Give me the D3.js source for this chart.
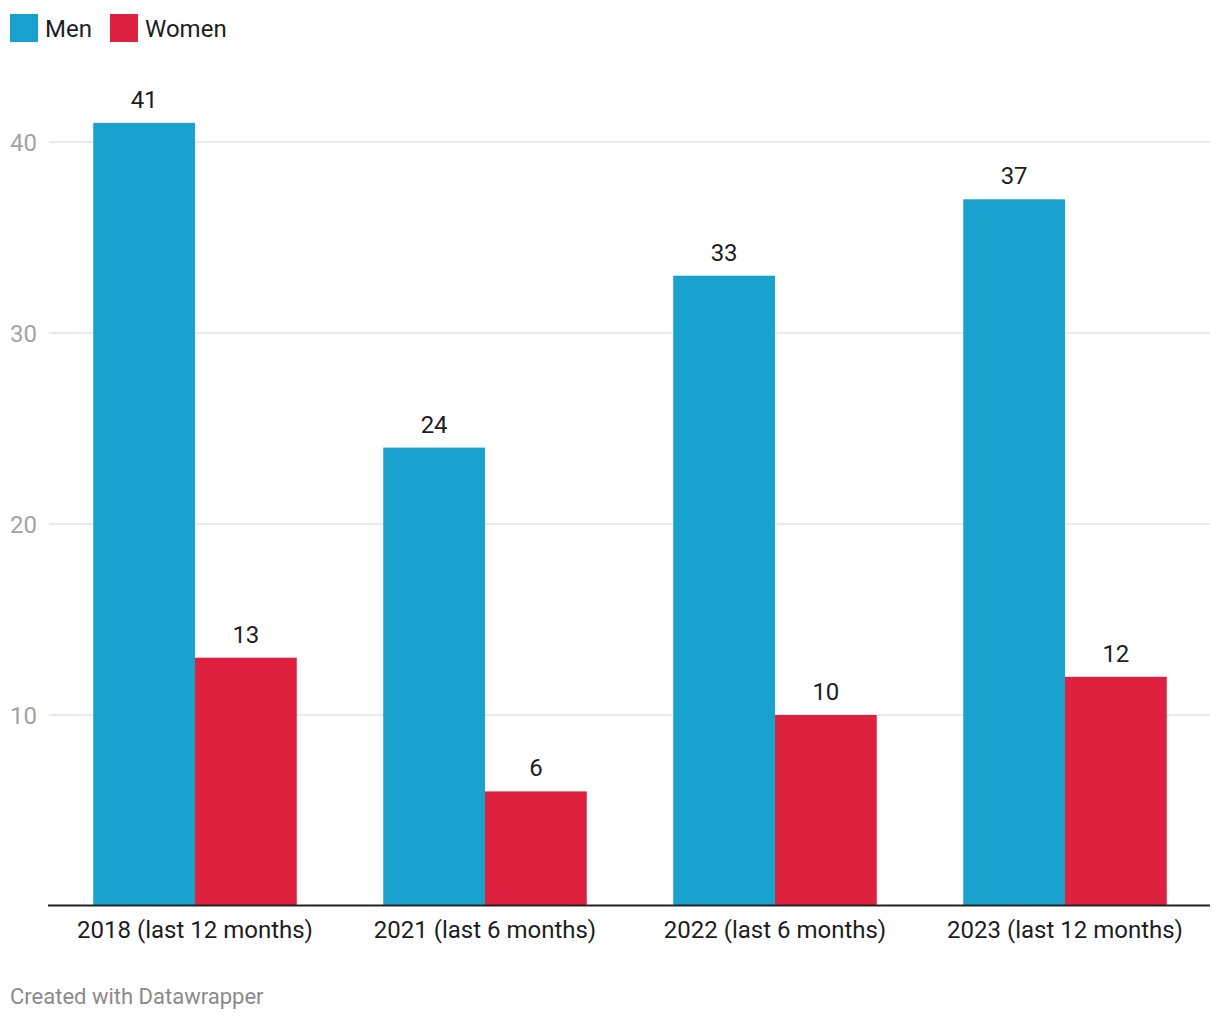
<!DOCTYPE html>
<html><head><meta charset="utf-8">
<script src="https://cdn.jsdelivr.net/npm/d3@7"></script>
<style>body{margin:0;background:#fff;font-family:Roboto,"Noto Sans",sans-serif;}</style>
</head><body>
<svg id="c" width="1220" height="1020"></svg>
<script>
const categories = ["2018 (last 12 months)","2021 (last 6 months)","2022 (last 6 months)","2023 (last 12 months)"];
const series = ["Men","Women"];
const menValues = [41,24,33,37];
const womenValues = [13,6,10,12];
const yTicks = [10,20,30,40];
const colors = {"Men":"#1aa2ce","Women":"#df2140"};

const svg = d3.select("#c");
const x0 = d3.scaleBand().domain(categories).range([50,1210]).padding(0);
const x1 = d3.scaleBand().domain(series).range([0,x0.bandwidth()]).paddingInner(0).paddingOuter(0.425);
const y = d3.scaleLinear().domain([0,10]).range([906,715]);

// gridlines
svg.append("g").selectAll("line").data(yTicks).join("line")
  .attr("x1",49).attr("x2",1210).attr("y1",d=>y(d)).attr("y2",d=>y(d))
  .attr("stroke","#e3e3e3").attr("stroke-width",1.5);
svg.append("g").selectAll("text").data(yTicks).join("text")
  .attr("x",10).attr("y",d=>y(d)).attr("dy","0.36em")
  .attr("font-size",24).attr("fill","#a3a3a3").text(d=>d);

const data = categories.map((c,i)=>({cat:c, vals:[{s:"Men",v:menValues[i]},{s:"Women",v:womenValues[i]}]}));
const g = svg.append("g").selectAll("g").data(data).join("g")
  .attr("transform",d=>`translate(${x0(d.cat)},0)`);
g.selectAll("rect").data(d=>d.vals).join("rect")
  .attr("x",d=>x1(d.s)).attr("width",x1.bandwidth())
  .attr("y",d=>y(d.v)).attr("height",d=>y(0)-y(d.v))
  .attr("fill",d=>colors[d.s]);
g.selectAll("text").data(d=>d.vals).join("text")
  .attr("x",d=>x1(d.s)+x1.bandwidth()/2).attr("y",d=>y(d.v)-15)
  .attr("text-anchor","middle").attr("font-size",24).attr("fill","#1d1d1d").text(d=>d.v);

// baseline
svg.append("line").attr("x1",48).attr("x2",1210).attr("y1",905.5).attr("y2",905.5)
  .attr("stroke","#222").attr("stroke-width",2);

// x axis labels
svg.append("g").selectAll("text").data(categories).join("text")
  .attr("x",d=>x0(d)+x0.bandwidth()/2).attr("y",938)
  .attr("text-anchor","middle").attr("font-size",24).attr("fill","#1d1d1d").text(d=>d);

// legend
const leg = svg.append("g").selectAll("g").data(series).join("g")
  .attr("transform",(d,i)=>`translate(${i===0?10:110},14)`);
leg.append("rect").attr("width",28).attr("height",28).attr("fill",d=>colors[d]);
leg.append("text").attr("x",35).attr("y",14).attr("dy","0.36em").attr("font-size",24).attr("fill","#1d1d1d").text(d=>d);

svg.append("text").attr("x",10).attr("y",1004).attr("font-size",22).attr("fill","#8a8a8a").text("Created with Datawrapper");
</script>
</body></html>
